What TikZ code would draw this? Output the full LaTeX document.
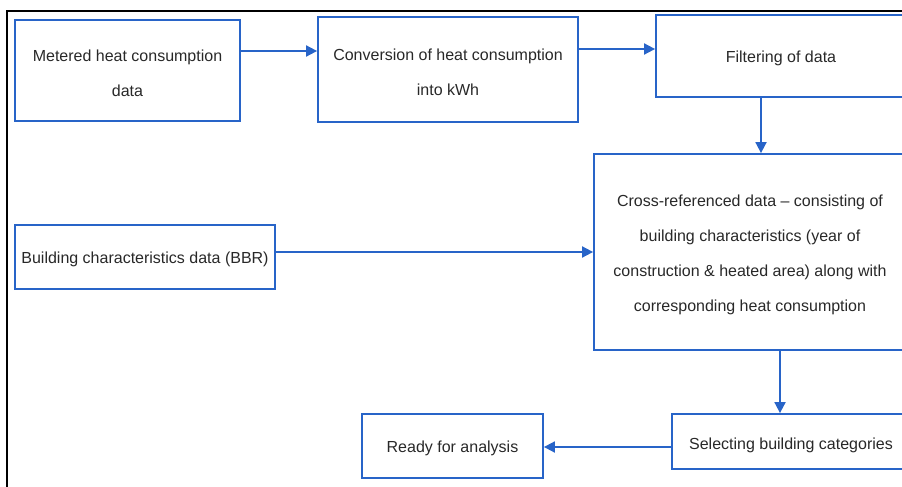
\documentclass[tikz,border=0pt]{standalone}
\usepackage{fontspec}
\setmainfont{Liberation Sans}
\usetikzlibrary{arrows.meta}
\definecolor{flowblue}{RGB}{40,100,200}
\definecolor{txtgray}{RGB}{40,40,40}
\begin{document}
\begin{tikzpicture}[x=1pt,y=1pt,
  box/.style={draw=flowblue,line width=1.8pt,inner sep=0pt,align=center,
    text=txtgray,font=\fontsize{16}{35}\selectfont},
  arr/.style={draw=flowblue,line width=1.8pt,-{Triangle[length=11pt,width=11pt]}}]
\useasboundingbox (0,0) rectangle (902,-487);
\clip (0,0) rectangle (902,-487);
\draw[line width=2pt,black] (7,-11) rectangle (910,-495);
\node[box,minimum width=225pt,minimum height=101pt,text height=51.5pt] (b1) at (127.5,-70.5)
  {Metered heat consumption\\data};
\node[box,minimum width=260pt,minimum height=105pt,text height=51.5pt] (b2) at (448,-69.5)
  {Conversion of heat consumption\\into kWh};
\node[box,minimum width=250pt,minimum height=82pt,text height=16.5pt] (b3) at (781,-56)
  {Filtering of data};
\node[box,minimum width=312pt,minimum height=196pt,text height=121.5pt] (b4) at (750,-252)
  {Cross-referenced data -- consisting of\\building characteristics (year of\\construction \& heated area) along with\\corresponding heat consumption};
\node[box,minimum width=260pt,minimum height=64pt,text height=16.5pt] (bbr) at (145,-257)
  {Building characteristics data (BBR)};
\node[box,minimum width=238pt,minimum height=55pt,text height=20pt] (sel) at (791,-441.5)
  {Selecting building categories};
\node[box,minimum width=181pt,minimum height=64pt,text height=16.5pt] (rdy) at (452.5,-446)
  {Ready for analysis};
\coordinate (y1) at (0,-51);
\coordinate (y2) at (0,-49);
\coordinate (x3) at (761,0);
\coordinate (y4) at (0,-252);
\coordinate (x5) at (780,0);
\coordinate (y6) at (0,-447);
\draw[arr] (b1.east |- y1) -- (b2.west |- y1);
\draw[arr] (b2.east |- y2) -- (b3.west |- y2);
\draw[arr] (b3.south -| x3) -- (b4.north -| x3);
\draw[arr] (bbr.east |- y4) -- (b4.west |- y4);
\draw[arr] (b4.south -| x5) -- (sel.north -| x5);
\draw[arr] (sel.west |- y6) -- (rdy.east |- y6);
\end{tikzpicture}
\end{document}
